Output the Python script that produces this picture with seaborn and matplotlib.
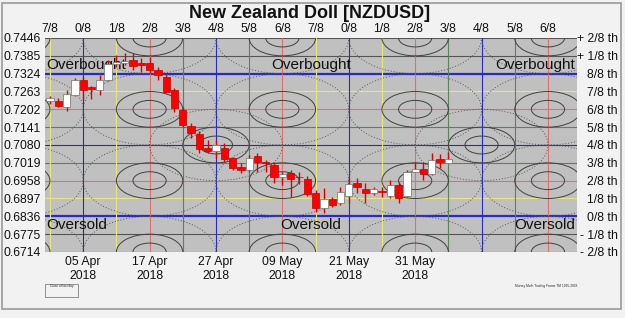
import matplotlib
matplotlib.use('Agg')
import matplotlib.pyplot as plt
from matplotlib.patches import Ellipse, Rectangle
import seaborn as sns

# --- DATA ---
# candle index: 0 = 05 Apr 2018, one candle per trading day
idx = list(range(-4, 45))
opens = [0.7232, 0.7232, 0.7210, 0.7252, 0.7301, 0.7277, 0.7267, 0.7301, 0.7357, 0.7360,
         0.7371, 0.7360, 0.7362, 0.7338, 0.7314, 0.7268, 0.7200, 0.7145, 0.7118, 0.7071,
         0.7059, 0.7071, 0.7035, 0.7006, 0.6995, 0.7041, 0.7022, 0.7013, 0.6970, 0.6983,
         0.6972, 0.6964, 0.6915, 0.6864, 0.6895, 0.6881, 0.6906, 0.6949, 0.6928, 0.6917,
         0.6921, 0.6906, 0.6943, 0.6906, 0.6988, 0.6997, 0.6981, 0.7031, 0.7019]
highs = [0.7248, 0.7241, 0.7269, 0.7309, 0.7313, 0.7282, 0.7320, 0.7371, 0.7388, 0.7395,
         0.7395, 0.7378, 0.7381, 0.7347, 0.7322, 0.7275, 0.7211, 0.7154, 0.7128, 0.7097,
         0.7097, 0.7086, 0.7040, 0.7017, 0.7046, 0.7052, 0.7029, 0.7022, 0.6989, 0.6995,
         0.6988, 0.6974, 0.6926, 0.6933, 0.6903, 0.6937, 0.6966, 0.6966, 0.6949, 0.6937,
         0.6937, 0.6960, 0.6955, 0.6995, 0.7023, 0.7023, 0.7052, 0.7049, 0.7057]
lows = [0.7220, 0.7209, 0.7195, 0.7246, 0.7234, 0.7239, 0.7252, 0.7299, 0.7347, 0.7354,
        0.7338, 0.7330, 0.7326, 0.7302, 0.7257, 0.7194, 0.7141, 0.7103, 0.7052, 0.7052,
        0.7035, 0.7022, 0.6995, 0.6983, 0.6988, 0.6989, 0.6989, 0.6949, 0.6943, 0.6901,
        0.6947, 0.6906, 0.6852, 0.6849, 0.6869, 0.6875, 0.6881, 0.6915, 0.6881, 0.6909,
        0.6903, 0.6898, 0.6881, 0.6901, 0.6986, 0.6960, 0.6977, 0.7000, 0.7019]
closes = [0.7241, 0.7214, 0.7253, 0.7301, 0.7269, 0.7271, 0.7301, 0.7358, 0.7364, 0.7368,
          0.7349, 0.7352, 0.7338, 0.7319, 0.7262, 0.7206, 0.7148, 0.7120, 0.7066, 0.7059,
          0.7080, 0.7032, 0.7001, 0.6993, 0.7037, 0.7023, 0.7019, 0.6969, 0.6981, 0.6962,
          0.6969, 0.6914, 0.6864, 0.6895, 0.6875, 0.6918, 0.6947, 0.6937, 0.6915, 0.6928,
          0.6919, 0.6943, 0.6898, 0.6987, 0.6997, 0.6981, 0.7029, 0.7023, 0.7031]

# Murrey Math price levels, from -2/8 up to +2/8
levels = [0.6714, 0.6775, 0.6836, 0.6897, 0.6958, 0.7019, 0.7080,
          0.7141, 0.7202, 0.7263, 0.7324, 0.7385, 0.7446]
level_names = ['- 2/8 th', '- 1/8 th', '0/8 th', '1/8 th', '2/8 th', '3/8 th', '4/8 th',
               '5/8 th', '6/8 th', '7/8 th', '8/8 th', '+ 1/8 th', '+ 2/8 th']

# time frame lines (every 4 candles)
frame_pos = list(range(-4, 57, 4))
frame_names = ['7/8', '0/8', '1/8', '2/8', '3/8', '4/8', '5/8', '6/8'] * 2

date_pos = [0, 8, 16, 24, 32, 40]
date_names = ['05 Apr\n2018', '17 Apr\n2018', '27 Apr\n2018',
              '09 May\n2018', '21 May\n2018', '31 May\n2018']

# --- STYLE ---
sns.set_theme(style="white")
plt.rcParams['font.family'] = ['Liberation Sans', 'DejaVu Sans']

BLUE = '#2a2ac0'
RED = '#e07070'
YELLOW = '#e6e67a'
GREEN = '#5f7f5f'
DARK = '#555555'
eighth_color = {'0/8': BLUE, '4/8': BLUE, '8/8': BLUE,
                '1/8': YELLOW, '7/8': YELLOW,
                '2/8': RED, '6/8': RED,
                '3/8': GREEN, '5/8': GREEN}

W, H = 625, 318
fig = plt.figure(figsize=(W / 100, H / 100), dpi=100)
fig.patch.set_facecolor('#f2f2f2')
fig.add_artist(Rectangle((2 / W, 1 - 309 / H), 619 / W, 306 / H, transform=fig.transFigure,
                         fill=False, edgecolor='#9a9a9a', lw=1.2))

ax = fig.add_axes([45 / W, 1 - 252 / H, 532 / W, 214 / H])
ax.set_facecolor('#c0c0c0')
step = levels[1] - levels[0]
ax.set_xlim(-4.6, 59.5)
ax.set_ylim(levels[0], levels[-1])

# horizontal Murrey lines
for lv, name in zip(levels, level_names):
    key = name.replace(' th', '')
    if key.startswith(('+', '-')):
        col, lw = DARK, 0.8
    else:
        col = eighth_color[key]
        lw = 1.6 if key in ('0/8', '8/8') else 0.8
    ax.axhline(lv, color=col, lw=lw, zorder=1)

# vertical time lines
for xp, name in zip(frame_pos, frame_names):
    ax.axvline(xp, color=eighth_color[name], lw=0.8, zorder=1)

# octave ellipses (decoration of the trading frame)
base = levels[2]
centers = []
for cx in (-8, 8, 24, 40, 56):
    for lv8 in (10, 6, 2, -2):
        centers.append((cx, base + lv8 * step))
for cx in (16, 48):
    centers.append((cx, base + 4 * step))
for cx, cy in centers:
    for k in (0.5, 1.0):
        ax.add_patch(Ellipse((cx, cy), 8 * k, 2 * step * k, fill=False,
                             edgecolor='#404040', lw=0.7, zorder=1.5))
    ax.add_patch(Ellipse((cx, cy), 16, 4 * step, fill=False, edgecolor='#555555',
                         lw=0.7, ls=(0, (1, 2)), zorder=1.5))

# zone texts
ob_y = (levels[10] + levels[11]) / 2
os_y = (levels[1] + levels[2]) / 2
for xa, ha in ((0.003, 'left'), (0.5, 'center'), (0.997, 'right')):
    ax.text(xa, ob_y, 'Overbought', transform=ax.get_yaxis_transform(), ha=ha,
            va='center', fontsize=11, color='#111111', zorder=2)
    ax.text(xa, os_y, 'Oversold', transform=ax.get_yaxis_transform(), ha=ha,
            va='center', fontsize=11, color='#111111', zorder=2)

# candles
ax.vlines(idx, lows, highs, color='#e00000', lw=1.0, zorder=3)
for x, o, c in zip(idx, opens, closes):
    up = c >= o
    h = max(abs(c - o), 0.00025)
    ax.bar(x, h, bottom=min(o, c), width=0.88,
           color='white' if up else '#ff0000',
           edgecolor='#707070' if up else '#c00000', lw=0.5, zorder=4)

for s in ax.spines.values():
    s.set_visible(False)

# axes labels
ax.set_yticks(levels, labels=[f'{v:.4f}' for v in levels])
ax.set_xticks(date_pos, labels=date_names)
ax.tick_params(axis='both', length=0, labelsize=8.8, colors='#111111')
ax.tick_params(axis='y', pad=3)
ax.tick_params(axis='x', pad=3)

top = ax.secondary_xaxis('top')
top.set_xticks(frame_pos, labels=frame_names)
top.tick_params(length=0, labelsize=8.8, pad=2, colors='#111111')
top.spines['top'].set_visible(False)

right = ax.twinx()
right.set_ylim(ax.get_ylim())
right.set_yticks(levels, labels=level_names)
right.tick_params(length=0, labelsize=8.8, pad=29.5, colors='#111111')
for lbl in right.get_yticklabels():
    lbl.set_ha('right')
for s in right.spines.values():
    s.set_visible(False)

fig.text(310 / W, 1 - 13 / H, 'New Zealand Doll [NZDUSD]', ha='center', va='center',
         fontsize=13, fontweight='bold', color='#111111')

# small legend box and credit
fig.add_artist(Rectangle((45 / W, 1 - 297 / H), 33 / W, 13 / H, transform=fig.transFigure,
                         fill=False, edgecolor='#808080', lw=0.6))
fig.text(61.5 / W, 1 - 286.5 / H, 'Close of last day', ha='center', va='center', fontsize=2.3)
fig.text(546 / W, 1 - 285.5 / H, 'Murrey Math Trading Frame TM 1995-2003', ha='center',
         va='center', fontsize=2.3)

fig.savefig('out.png', dpi=100, facecolor=fig.get_facecolor())
